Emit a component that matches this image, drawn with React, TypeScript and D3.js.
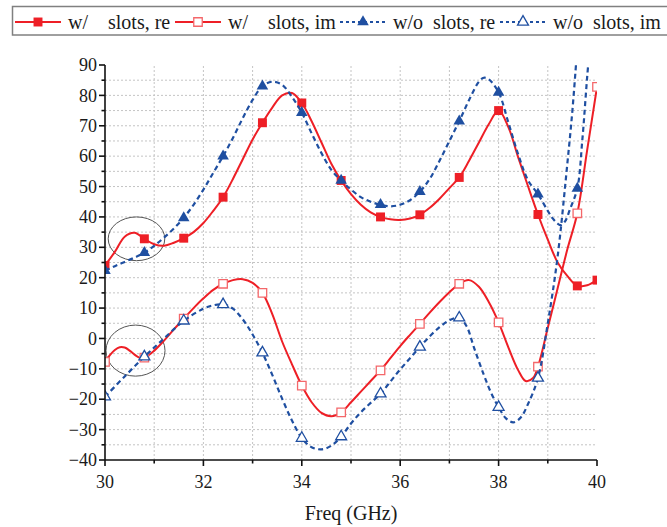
import React from 'react';
import * as d3 from 'd3';

// w/ slots, re
const wReFreq = [30, 30.2, 30.4, 30.6, 30.8, 31.0, 31.2, 31.4, 31.6, 31.8, 32.0, 32.2, 32.4, 32.6, 32.8, 33.0, 33.2, 33.4, 33.6, 33.8, 34.0, 34.2, 34.4, 34.6, 34.8, 35.0, 35.2, 35.4, 35.6, 35.8, 36.0, 36.2, 36.4, 36.6, 36.8, 37.0, 37.2, 37.4, 37.6, 37.8, 38.0, 38.2, 38.4, 38.6, 38.8, 39.0, 39.2, 39.4, 39.6, 39.8, 40];
const wReVal = [24, 28.5, 33.5, 34.8, 32.8, 31, 30.5, 31.5, 33, 35, 38, 42, 46.5, 52.5, 59, 65.5, 71, 76, 80, 80.8, 77.5, 71.5, 64.5, 57.5, 52, 47.5, 44, 41.5, 40, 39.2, 39, 39.5, 40.7, 43, 46, 49.5, 53, 58.5, 64.5, 70.5, 75, 69.5, 59.5, 50, 40.8, 32.5, 25, 20.5, 17.3, 17.5, 19.2];

// w/ slots, im
const wImFreq = [30, 30.1, 30.2, 30.3, 30.4, 30.5, 30.6, 30.7, 30.8, 31.0, 31.2, 31.4, 31.6, 31.8, 32.0, 32.2, 32.4, 32.6, 32.8, 33.0, 33.2, 33.4, 33.6, 33.8, 34.0, 34.2, 34.4, 34.6, 34.8, 35.0, 35.2, 35.4, 35.6, 35.8, 36.0, 36.2, 36.4, 36.6, 36.8, 37.0, 37.2, 37.4, 37.6, 37.8, 38.0, 38.2, 38.4, 38.55, 38.7, 38.8, 39.0, 39.2, 39.4, 39.6, 39.8, 40];
const wImVal = [-7.7, -5.5, -3.8, -2.9, -3, -4, -5.3, -6.3, -6.3, -4, -0.7, 3, 6.5, 10, 13.2, 16, 18, 19.2, 19.5, 18.3, 15, 8, -1, -8.5, -15.5, -21, -24.5, -25.6, -24.3, -21, -17.5, -14, -10.5, -6.5, -2.5, 1.2, 4.8, 8.5, 12, 15.2, 18, 19.2, 17, 12, 5.3, -3, -10.5, -14, -13, -9.3, 3.5, 16.5, 29.5, 41.2, 62, 82.8];

// w/o slots, re
const woReFreq = [30, 30.2, 30.4, 30.6, 30.8, 31.0, 31.2, 31.4, 31.6, 31.8, 32.0, 32.2, 32.4, 32.6, 32.8, 33.0, 33.2, 33.4, 33.6, 33.8, 34.0, 34.2, 34.4, 34.6, 34.8, 35.0, 35.2, 35.4, 35.6, 35.8, 36.0, 36.2, 36.4, 36.6, 36.8, 37.0, 37.2, 37.4, 37.6, 37.7, 37.8, 38.0, 38.2, 38.4, 38.6, 38.8, 39.0, 39.1, 39.2, 39.27, 39.35, 39.45, 39.6, 39.7, 39.8, 39.9];
const woReVal = [22.3, 23.8, 25.2, 26.6, 28.2, 30.5, 33.2, 36.2, 39.7, 44, 49, 54.5, 60, 66, 72.5, 78.5, 83, 84.5, 83.5, 79.5, 74.3, 67.5, 61, 55.5, 52, 49, 46.5, 45, 44, 43.5, 44, 45.5, 48.3, 52.5, 58.5, 65, 71.5, 78.5, 84.5, 85.8, 85.3, 81, 71, 60.5, 52, 47.5, 42, 39.5, 37.8, 37.3, 38.5, 42.5, 49.4, 65, 86, 105];

// w/o slots, im
const woImFreq = [30, 30.4, 30.8, 31.2, 31.6, 32.0, 32.2, 32.4, 32.6, 32.8, 33.0, 33.2, 33.4, 33.6, 33.8, 34.0, 34.2, 34.4, 34.6, 34.8, 35.0, 35.2, 35.4, 35.6, 35.8, 36.0, 36.2, 36.4, 36.6, 36.8, 37.0, 37.2, 37.35, 37.5, 37.7, 37.85, 38.0, 38.15, 38.3, 38.45, 38.6, 38.8, 39.0, 39.2, 39.4, 39.5, 39.6];
const woImVal = [-19.2, -12.5, -6, 0, 5.8, 9.8, 10.9, 11.2, 9.8, 6.3, 1.3, -4.7, -12, -19.8, -27, -32.8, -35.8, -36.5, -35.3, -32.3, -28, -24.3, -21.2, -18.2, -14.2, -10.2, -6.5, -2.8, 0.7, 3.7, 6, 6.8, 4, -3, -12, -18, -22.6, -26.3, -27.6, -26, -21.5, -13, 5, 27, 58, 75, 96];

const markerFreqs = [30, 30.8, 31.6, 32.4, 33.2, 34.0, 34.8, 35.6, 36.4, 37.2, 38.0, 38.8, 39.6, 40];
const xTicks = [30, 32, 34, 36, 38, 40];
const xMinor = [31, 33, 35, 37, 39];
const xGrid = [31, 32, 33, 34, 35, 36, 37, 38, 39];
const yTicks = [-40, -30, -20, -10, 0, 10, 20, 30, 40, 50, 60, 70, 80, 90];
const yMinor = [-35, -25, -15, -5, 5, 15, 25, 35, 45, 55, 65, 75, 85];
const yGrid = [-35, -30, -25, -20, -15, -10, -5, 0, 5, 10, 15, 20, 25, 30, 35, 40, 45, 50, 55, 60, 65, 70, 75, 80, 85];
const legendLabels = ['w/    slots, re', 'w/    slots, im', 'w/o  slots, re', 'w/o  slots, im'];
const xTitle = 'Freq (GHz)';

const RED = '#ee1f26';
const RED_OPEN = '#f4676a';
const BLUE = '#1f4fa1';

type Series = { freq: number[]; val: number[]; color: string; stroke: string; dash?: string; shape: 'square' | 'triangle'; filled: boolean };

const series: Series[] = [
  { freq: wReFreq, val: wReVal, color: RED, stroke: RED, shape: 'square', filled: true },
  { freq: wImFreq, val: wImVal, color: RED, stroke: RED_OPEN, shape: 'square', filled: false },
  { freq: woReFreq, val: woReVal, color: BLUE, stroke: BLUE, dash: '5,3.5', shape: 'triangle', filled: true },
  { freq: woImFreq, val: woImVal, color: BLUE, stroke: BLUE, dash: '5,3.5', shape: 'triangle', filled: false },
];

const FONT = '"Liberation Serif", "Times New Roman", serif';

export default function App() {
  const W = 667, H = 527;
  const x = d3.scaleLinear().domain([30, 40]).range([105, 597]);
  const y = d3.scaleLinear().domain([-40, 90]).range([460, 65]);
  const line = d3.line<[number, number]>().x(d => x(d[0])).y(d => y(d[1])).curve(d3.curveCatmullRom.alpha(0.5));
  const sq = d3.symbol(d3.symbolSquare, 80)();
  const sqOpen = d3.symbol(d3.symbolSquare, 72)();
  const tri = d3.symbol(d3.symbolTriangle, 58)();
  const triOpen = d3.symbol(d3.symbolTriangle, 52)();
  const fmt = (v: number) => (v < 0 ? '\u2212' + Math.abs(v) : String(v));

  const marker = (s: Series, key: string, tx: number, ty: number) => {
    const d = s.shape === 'square' ? (s.filled ? sq : sqOpen) : (s.filled ? tri : triOpen);
    return (
      <path key={key} d={d as string} transform={`translate(${tx},${ty})`}
        fill={s.filled ? s.color : '#fff'} stroke={s.filled ? 'none' : s.stroke}
        strokeWidth={s.filled ? 0 : 1.3} />
    );
  };

  const legendX = [15, 175, 340, 500];

  return (
    <svg width={W} height={H} style={{ position: 'absolute', left: 0, top: 0, background: '#fff' }} fontFamily={FONT}>
      <defs>
        <clipPath id="plotClip">
          <rect x={105} y={65} width={492} height={395} />
        </clipPath>
      </defs>
      <rect x={0} y={0} width={W} height={H} fill="#fff" />
      {/* grid */}
      <g stroke="#c4c4c4" strokeWidth={1} strokeDasharray="2,2">
        {xGrid.map(g => <line key={'xg' + g} x1={x(g)} x2={x(g)} y1={y(-40)} y2={y(90)} />)}
        {yGrid.map(g => <line key={'yg' + g} x1={x(30)} x2={x(40)} y1={y(g)} y2={y(g)} />)}
      </g>
      {/* ellipses */}
      <ellipse cx={x(30.64)} cy={y(32.8)} rx={x(30.575) - x(30)} ry={y(0) - y(7.2)} fill="none" stroke="#555" strokeWidth={1} />
      <ellipse cx={x(30.62)} cy={y(-4)} rx={x(30.6) - x(30)} ry={y(0) - y(8.4)} fill="none" stroke="#555" strokeWidth={1} />
      {/* series */}
      <g clipPath="url(#plotClip)">
        {series.map((s, i) => {
          const pts: [number, number][] = s.freq.map((f, j) => [f, s.val[j]]);
          return (
            <g key={'s' + i}>
              <path d={line(pts) as string} fill="none" stroke={s.color} strokeWidth={s.dash ? 2.2 : 2} strokeDasharray={s.dash} />
              {pts.filter(p => markerFreqs.some(m => Math.abs(m - p[0]) < 1e-6)).map((p, k) => marker(s, 'm' + i + '_' + k, x(p[0]), y(p[1])))}
            </g>
          );
        })}
      </g>
      {/* axes */}
      <g stroke="#111" strokeWidth={1.6} fill="none">
        <line x1={x(30)} x2={x(30)} y1={y(-40)} y2={y(90)} />
        <line x1={x(30)} x2={x(40)} y1={y(-40)} y2={y(-40)} />
        {yTicks.map(t => <line key={'yt' + t} x1={x(30) - 6} x2={x(30)} y1={y(t)} y2={y(t)} />)}
        {yMinor.map(t => <line key={'ym' + t} x1={x(30) - 3.5} x2={x(30)} y1={y(t)} y2={y(t)} />)}
        {xTicks.map(t => <line key={'xt' + t} x1={x(t)} x2={x(t)} y1={y(-40)} y2={y(-40) + 6} />)}
        {xMinor.map(t => <line key={'xm' + t} x1={x(t)} x2={x(t)} y1={y(-40)} y2={y(-40) + 3.5} />)}
      </g>
      <g fontSize={18} fill="#1a1a1a" fontFamily={FONT}>
        {yTicks.map(t => <text key={'yl' + t} x={x(30) - 8} y={y(t)} dy="0.34em" textAnchor="end" fontFamily={FONT}>{fmt(t)}</text>)}
        {xTicks.map(t => <text key={'xl' + t} x={x(t)} y={488} textAnchor="middle" fontFamily={FONT}>{fmt(t)}</text>)}
      </g>
      <text x={(x(30) + x(40)) / 2} y={520} fontSize={20} textAnchor="middle" fill="#1a1a1a" fontFamily={FONT}>{xTitle}</text>
      {/* legend */}
      <rect x={12.5} y={6.5} width={720} height={28.5} fill="#fff" stroke="#808080" strokeWidth={1.5} />
      {series.map((s, i) => {
        const lx = legendX[i];
        return (
          <g key={'lg' + i}>
            <line x1={lx} x2={lx + 46} y1={22} y2={22} stroke={s.color} strokeWidth={2} strokeDasharray={s.dash ? '3,3' : undefined} />
            {marker(s, 'lm' + i, lx + 23, 22)}
            <text x={lx + 53} y={28.5} fontSize={20} fill="#1a1a1a" fontFamily={FONT} style={{ whiteSpace: 'pre' }}>{legendLabels[i]}</text>
          </g>
        );
      })}
    </svg>
  );
}
